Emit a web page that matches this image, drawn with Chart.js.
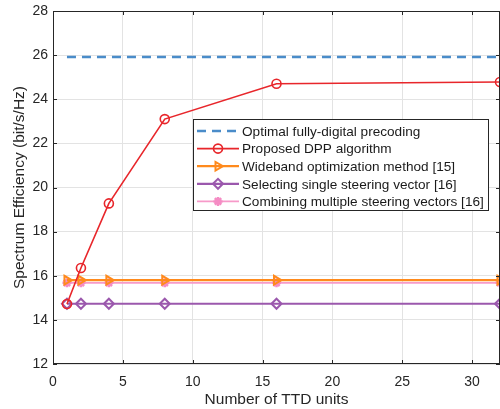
<!DOCTYPE html>
<html>
<head>
<meta charset="utf-8">
<script src="https://cdn.jsdelivr.net/npm/chart.js@4/dist/chart.umd.min.js"></script>
<style>
  html, body { margin: 0; padding: 0; background: #fff; }
  #wrap { width: 500px; height: 409px; position: relative; }
</style>
</head>
<body>
<div id="wrap"><canvas id="c"></canvas></div>
<script>
// data
const ttdUnits = [1, 2, 4, 8, 16, 32];
const optimalSE = [25.92, 25.92, 25.92, 25.92, 25.92, 25.92];
const proposedSE = [14.72, 16.35, 19.28, 23.1, 24.7, 24.78];
const widebandSE = [15.8, 15.8, 15.8, 15.8, 15.8, 15.8];
const selectingSE = [14.73, 14.73, 14.73, 14.73, 14.73, 14.73];
const combiningSE = [15.68, 15.68, 15.68, 15.68, 15.68, 15.68];

const seriesNames = [
    'Optimal fully-digital precoding',
    'Proposed DPP algorithm',
    'Wideband optimization method [15]',
    'Selecting single steering vector [16]',
    'Combining multiple steering vectors [16]'
];
const xTicks = [0, 5, 10, 15, 20, 25, 30];
const yTicks = [12, 14, 16, 18, 20, 22, 24, 26, 28];

const FONT = 'Liberation Sans, Arial, Helvetica, sans-serif';

function pts(ys) {
    return ttdUnits.map((x, i) => ({ x: x, y: ys[i] }));
}

// MATLAB-style inward ticks on all four sides
const innerTicks = {
    id: 'innerTicks',
    afterDraw(chart) {
        const { ctx, chartArea: a, scales } = chart;
        ctx.save();
        ctx.strokeStyle = '#262626';
        ctx.lineWidth = 1;
        ctx.beginPath();
        xTicks.forEach(v => {
            const px = Math.round(scales.x.getPixelForValue(v)) + 0.5;
            ctx.moveTo(px, a.bottom); ctx.lineTo(px, a.bottom - 4);
            ctx.moveTo(px, a.top); ctx.lineTo(px, a.top + 4);
        });
        yTicks.forEach(v => {
            const py = Math.round(scales.y.getPixelForValue(v)) + 0.5;
            ctx.moveTo(a.left, py); ctx.lineTo(a.left + 4, py);
            ctx.moveTo(a.right, py); ctx.lineTo(a.right - 4, py);
        });
        ctx.stroke();
        ctx.strokeRect(a.left + 0.5, a.top + 0.5, a.right - a.left - 1, a.bottom - a.top - 1);
        ctx.restore();
    }
};

// legend box inside the plot
const boxLegend = {
    id: 'boxLegend',
    afterDraw(chart) {
        const ctx = chart.ctx;
        const bx = 193, by = 119, bw = 295, bh = 91;
        ctx.save();
        ctx.fillStyle = '#fff';
        ctx.fillRect(bx, by, bw, bh);
        ctx.strokeStyle = '#262626';
        ctx.lineWidth = 1;
        ctx.strokeRect(bx + 0.5, by + 0.5, bw, bh);
        ctx.font = '13.6px ' + FONT;
        ctx.textBaseline = 'middle';
        chart.data.datasets.forEach((ds, i) => {
            const y = by + 12 + i * 17.6;
            ctx.strokeStyle = ds.borderColor;
            ctx.lineWidth = ds.borderWidth;
            ctx.setLineDash(ds.borderDash || []);
            ctx.beginPath();
            ctx.moveTo(197, y); ctx.lineTo(239, y);
            ctx.stroke();
            ctx.setLineDash([]);
            if (ds.pointRadius > 0 && Chart.helpers && Chart.helpers.drawPoint) {
                ctx.fillStyle = 'rgba(0,0,0,0)';
                ctx.strokeStyle = ds.pointBorderColor;
                ctx.lineWidth = ds.pointBorderWidth;
                Chart.helpers.drawPoint(ctx, {
                    pointStyle: ds.pointStyle,
                    rotation: ds.pointRotation || 0,
                    radius: ds.pointRadius,
                    borderWidth: ds.pointBorderWidth
                }, 218, y);
            }
            ctx.fillStyle = '#1a1a1a';
            ctx.fillText(ds.label, 242, y + 1);
        });
        ctx.restore();
    }
};

const ctx = document.getElementById('c').getContext('2d');
new Chart(ctx, {
    type: 'line',
    data: {
        datasets: [
            {
                label: seriesNames[0], data: pts(optimalSE),
                borderColor: '#4a8cc9', borderWidth: 2.5, borderDash: [9, 6],
                pointRadius: 0
            },
            {
                label: seriesNames[1], data: pts(proposedSE),
                borderColor: '#e8262b', borderWidth: 1.6,
                pointStyle: 'circle', pointRadius: 4.5, pointBorderWidth: 1.6,
                pointBackgroundColor: 'rgba(0,0,0,0)', pointBorderColor: '#e8262b'
            },
            {
                label: seriesNames[2], data: pts(widebandSE),
                borderColor: '#ff8a1c', borderWidth: 2.2,
                pointStyle: 'triangle', pointRotation: 90, pointRadius: 5, pointBorderWidth: 2,
                pointBackgroundColor: 'rgba(0,0,0,0)', pointBorderColor: '#ff8a1c'
            },
            {
                label: seriesNames[3], data: pts(selectingSE),
                borderColor: '#9b58ad', borderWidth: 2.2,
                pointStyle: 'rectRot', pointRadius: 5, pointBorderWidth: 2,
                pointBackgroundColor: 'rgba(0,0,0,0)', pointBorderColor: '#9b58ad'
            },
            {
                label: seriesNames[4], data: pts(combiningSE),
                borderColor: '#f79ac9', borderWidth: 1.8,
                pointStyle: 'star', pointRadius: 4.5, pointBorderWidth: 2.5,
                pointBackgroundColor: 'rgba(0,0,0,0)', pointBorderColor: '#f58cc4'
            }
        ]
    },
    options: {
        responsive: true,
        maintainAspectRatio: false,
        animation: false,
        layout: { autoPadding: false, padding: { top: 11, right: 0, left: 0, bottom: 0 } },
        plugins: {
            legend: { display: false },
            tooltip: { enabled: false }
        },
        scales: {
            x: {
                type: 'linear', min: 0, max: 32,
                afterBuildTicks: s => { s.ticks = xTicks.map(v => ({ value: v })); },
                afterFit: s => {
                    s.height = 45;
                    s.paddingLeft = 0; s.paddingRight = 0;
                },
                grid: { color: '#e3e3e3', drawTicks: false },
                border: { display: false },
                ticks: {
                    color: '#262626', padding: 10,
                    font: { family: FONT, size: 14 }
                },
                title: {
                    display: true, text: 'Number of TTD units', color: '#262626',
                    font: { family: FONT, size: 15.5 }, padding: { top: 0, bottom: 0 }
                }
            },
            y: {
                min: 12, max: 28,
                afterBuildTicks: s => { s.ticks = yTicks.map(v => ({ value: v })); },
                afterFit: s => {
                    s.width = 53;
                    s.paddingTop = 0; s.paddingBottom = 0;
                },
                grid: { color: '#e3e3e3', drawTicks: false },
                border: { display: false },
                ticks: {
                    color: '#262626', padding: 5,
                    font: { family: FONT, size: 14 }
                },
                title: {
                    display: true, text: 'Spectrum Efficiency (bit/s/Hz)', color: '#262626',
                    font: { family: FONT, size: 15.5 }, padding: { top: 10, bottom: 0 }
                }
            }
        }
    },
    plugins: [innerTicks, boxLegend]
});
</script>
</body>
</html>
